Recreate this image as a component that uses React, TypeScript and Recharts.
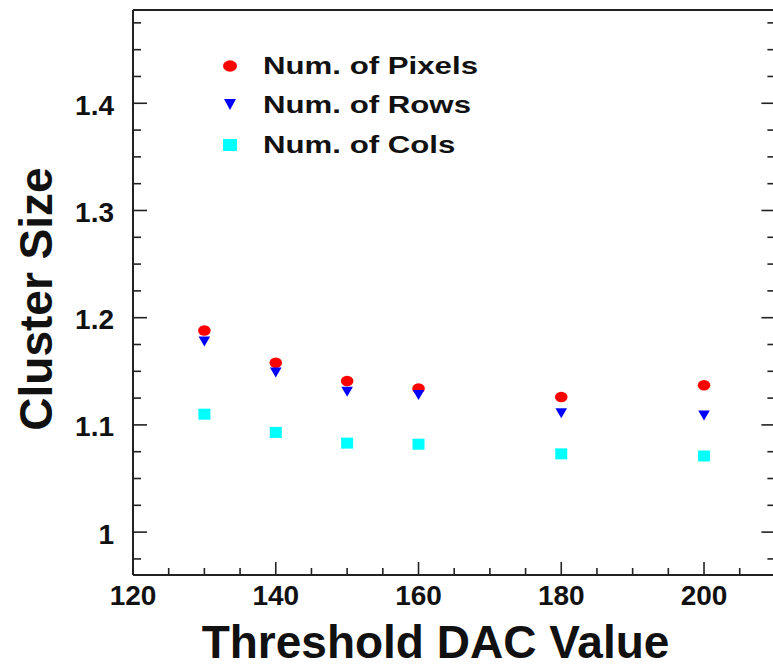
import React from "react";
import { ScatterChart, Scatter, XAxis, YAxis, Legend } from "recharts";

// values
const seriesNames = ["Num. of Pixels", "Num. of Rows", "Num. of Cols"];
const thresholds = [130, 140, 150, 160, 180, 200];
const numPixels = [1.188, 1.158, 1.141, 1.134, 1.126, 1.137];
const numRows = [1.178, 1.149, 1.131, 1.128, 1.111, 1.109];
const numCols = [1.11, 1.093, 1.083, 1.082, 1.073, 1.071];

const xTicks = [120, 125, 130, 135, 140, 145, 150, 155, 160, 165, 170, 175, 180, 185, 190, 195, 200, 205];
const xLabels = [120, 140, 160, 180, 200];
const yTicks = [0.975, 1, 1.025, 1.05, 1.075, 1.1, 1.125, 1.15, 1.175, 1.2, 1.225, 1.25, 1.275, 1.3, 1.325, 1.35, 1.375, 1.4, 1.425, 1.45, 1.475];
const yLabels = [1, 1.1, 1.2, 1.3, 1.4];

const FONT = "'Liberation Sans', Arial, Helvetica, sans-serif";
const AXIS = "#222";

const toPoints = (ys: number[]) => thresholds.map((x, i) => ({ x, y: ys[i] }));

const isLabel = (list: number[], v: number) => list.some((l) => Math.abs(l - v) < 1e-9);

const tickLabelStyle = { fontFamily: FONT, fontSize: 28, fontWeight: 700, fill: "#111" };

function makeTick(side: "bottom" | "top" | "left" | "right") {
  return (props: any) => {
    const { x, y, payload } = props;
    const v = payload.value as number;
    if (side === "bottom" || side === "top") {
      const major = isLabel(xLabels, v);
      const len = major ? 13 : 7;
      const dir = side === "bottom" ? -1 : 1;
      return (
        <g>
          <line x1={x} x2={x} y1={y} y2={y + dir * len} stroke={AXIS} strokeWidth={1.6} />
          {side === "bottom" && major && (
            <text x={x} y={y + 30} textAnchor="middle" style={tickLabelStyle}>
              {v}
            </text>
          )}
        </g>
      );
    }
    const major = isLabel(yLabels, v);
    const len = major ? 14 : 8;
    const dir = side === "left" ? 1 : -1;
    return (
      <g>
        <line x1={x} x2={x + dir * len} y1={y} y2={y} stroke={AXIS} strokeWidth={1.6} />
        {side === "left" && major && (
          <text x={x - 19} y={y + 11.5} textAnchor="end" style={tickLabelStyle}>
            {String(v)}
          </text>
        )}
      </g>
    );
  };
}

const RedDot = (p: any) => <ellipse cx={p.cx} cy={p.cy} rx={6.3} ry={5.3} fill="#ff0000" />;
const BlueTri = (p: any) => (
  <polygon
    points={`${p.cx - 5.8},${p.cy - 4.8} ${p.cx + 5.8},${p.cy - 4.8} ${p.cx},${p.cy + 5.2}`}
    fill="#0000ff"
  />
);
const CyanBox = (p: any) => <rect x={p.cx - 6} y={p.cy - 5.5} width={12} height={11} fill="#00ffff" />;

function LegendMarker({ name }: { name: string }) {
  return (
    <svg width={30} height={20} style={{ flex: "none" }}>
      {name === seriesNames[0] && <ellipse cx={15} cy={10} rx={7} ry={5.8} fill="#ff0000" />}
      {name === seriesNames[1] && <polygon points="9,4 21,4 15,15" fill="#0000ff" />}
      {name === seriesNames[2] && <rect x={8} y={4} width={14} height={12} fill="#00ffff" />}
    </svg>
  );
}

const renderLegend = (props: any) => {
  const payload = [...(props.payload || [])].sort(
    (a: any, b: any) => seriesNames.indexOf(a.value) - seriesNames.indexOf(b.value)
  );
  return (
    <div>
      {payload.map((entry: any) => (
        <div key={entry.value} style={{ display: "flex", alignItems: "center", height: 39.5 }}>
          <LegendMarker name={entry.value} />
          <span
            style={{
              marginLeft: 18,
              fontFamily: FONT,
              fontWeight: 700,
              fontSize: 24,
              color: "#111",
              whiteSpace: "nowrap",
              display: "inline-block",
              transform: "scaleX(1.3)",
              transformOrigin: "left center",
            }}
          >
            {entry.value}
          </span>
        </div>
      ))}
    </div>
  );
};

export default function App() {
  return (
    <div style={{ position: "absolute", left: 0, top: 0, background: "#fff" }}>
      <ScatterChart width={780} height={665} margin={{ top: 9, right: 3.6, bottom: 89, left: 132 }}>
        <XAxis
          xAxisId="x"
          dataKey="x"
          type="number"
          domain={[120, 210]}
          allowDataOverflow
          ticks={xTicks}
          interval={0}
          height={1}
          tickSize={0}
          tickMargin={0}
          tickLine={false}
          axisLine={{ stroke: AXIS, strokeWidth: 2 }}
          tick={makeTick("bottom")}
          label={(p: any) => (
            <text
              x={p.viewBox.x + p.viewBox.width / 2 - 18.7}
              y={p.viewBox.y + 83}
              textAnchor="middle"
              style={{ fontFamily: FONT, fontSize: 46, fontWeight: 700, fill: "#111" }}
            >
              Threshold DAC Value
            </text>
          )}
        />
        <XAxis
          xAxisId="top"
          orientation="top"
          type="number"
          domain={[120, 210]}
          allowDataOverflow
          ticks={xTicks}
          interval={0}
          height={1}
          tickSize={0}
          tickMargin={0}
          tickLine={false}
          axisLine={{ stroke: AXIS, strokeWidth: 2 }}
          tick={makeTick("top")}
        />
        <YAxis
          yAxisId="y"
          dataKey="y"
          type="number"
          domain={[0.96, 1.487]}
          allowDataOverflow
          ticks={yTicks}
          interval={0}
          width={1}
          tickSize={0}
          tickMargin={0}
          tickLine={false}
          axisLine={{ stroke: AXIS, strokeWidth: 2 }}
          tick={makeTick("left")}
          label={(p: any) => {
            const cx = p.viewBox.x - 80;
            const cy = p.viewBox.y + p.viewBox.height / 2 + 6.5;
            return (
              <text
                x={cx}
                y={cy}
                transform={`rotate(-90 ${cx} ${cy})`}
                textAnchor="middle"
                style={{ fontFamily: FONT, fontSize: 46, fontWeight: 700, fill: "#111" }}
              >
                Cluster Size
              </text>
            );
          }}
        />
        <YAxis
          yAxisId="right"
          orientation="right"
          type="number"
          domain={[0.96, 1.487]}
          allowDataOverflow
          ticks={yTicks}
          interval={0}
          width={1}
          tickSize={0}
          tickMargin={0}
          tickLine={false}
          axisLine={{ stroke: AXIS, strokeWidth: 2 }}
          tick={makeTick("right")}
        />
        <Legend
          layout="vertical"
          align="center"
          verticalAlign="middle"
          content={renderLegend}
          wrapperStyle={{ left: 215, top: 46, width: 320 }}
        />
        <Scatter
          name={seriesNames[0]}
          xAxisId="x"
          yAxisId="y"
          data={toPoints(numPixels)}
          fill="#ff0000"
          shape={RedDot}
          isAnimationActive={false}
        />
        <Scatter
          name={seriesNames[1]}
          xAxisId="x"
          yAxisId="y"
          data={toPoints(numRows)}
          fill="#0000ff"
          shape={BlueTri}
          isAnimationActive={false}
        />
        <Scatter
          name={seriesNames[2]}
          xAxisId="x"
          yAxisId="y"
          data={toPoints(numCols)}
          fill="#00ffff"
          shape={CyanBox}
          isAnimationActive={false}
        />
      </ScatterChart>
    </div>
  );
}
